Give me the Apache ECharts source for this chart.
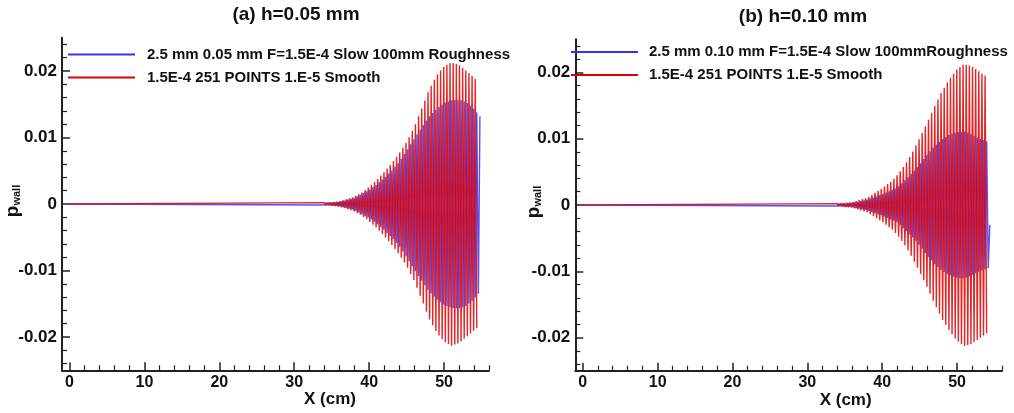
<!DOCTYPE html>
<html>
<head>
<meta charset="utf-8">
<script src="https://cdn.jsdelivr.net/npm/echarts@6/dist/echarts.min.js"></script>
<style>
html,body{margin:0;padding:0;background:#fff;}
#chart{width:1014px;height:413px;}
</style>
</head>
<body>
<div id="chart"></div>
<script>
// x positions (cm) of the successive extrema of the wall-pressure traces (first point = start of flat line)
const xStroke = [0,
34.00,34.21,34.42,34.63,34.84,35.05,35.26,35.47,35.68,35.89,
36.10,36.31,36.52,36.73,36.94,37.15,37.36,37.57,37.78,37.99,
38.20,38.41,38.62,38.83,39.04,39.25,39.46,39.67,39.88,40.09,
40.30,40.51,40.72,40.93,41.14,41.35,41.56,41.77,41.98,42.19,
42.40,42.61,42.82,43.03,43.24,43.45,43.66,43.87,44.08,44.29,
44.50,44.71,44.92,45.13,45.34,45.55,45.76,45.97,46.18,46.39,
46.60,46.81,47.02,47.23,47.44,47.65,47.86,48.07,48.28,48.49,
48.70,48.91,49.12,49.33,49.54,49.75,49.96,50.17,50.38,50.59,
50.80,51.01,51.22,51.43,51.64,51.85,52.06,52.27,52.48,52.69,
52.90,53.11,53.32,53.53,53.74,53.95,54.16,54.37,54.58,54.79];

// (a) h=0.05 mm : rough-wall case (blue)
const roughA = [0,
-0.00015,0.00017,-0.00018,0.00020,-0.00021,0.00023,-0.00024,0.00026,-0.00028,0.00029,
-0.00033,0.00039,-0.00046,0.00052,-0.00058,0.00065,-0.00071,0.00077,-0.00083,0.00090,
-0.00102,0.00115,-0.00127,0.00140,-0.00152,0.00165,-0.00178,0.00190,-0.00203,0.00217,
-0.00234,0.00251,-0.00268,0.00284,-0.00304,0.00325,-0.00346,0.00367,-0.00388,0.00411,
-0.00434,0.00457,-0.00480,0.00504,-0.00531,0.00559,-0.00586,0.00613,-0.00644,0.00679,
-0.00715,0.00751,-0.00786,0.00823,-0.00861,0.00899,-0.00937,0.00975,-0.01010,0.01046,
-0.01082,0.01118,-0.01153,0.01187,-0.01220,0.01254,-0.01288,0.01318,-0.01344,0.01369,
-0.01394,0.01419,-0.01441,0.01460,-0.01479,0.01498,-0.01516,0.01527,-0.01535,0.01544,
-0.01552,0.01560,-0.01562,0.01564,-0.01566,0.01569,-0.01568,0.01560,-0.01551,0.01542,
-0.01534,0.01519,-0.01498,0.01477,-0.01456,0.01435,-0.01405,0.01377,-0.01349,0.01320];

// (a) smooth-wall case (red)
const smoothA = [0,
0.00020,-0.00021,0.00022,-0.00023,0.00024,-0.00026,0.00029,-0.00032,0.00035,-0.00038,
0.00043,-0.00049,0.00056,-0.00062,0.00068,-0.00076,0.00084,-0.00093,0.00101,-0.00110,
0.00122,-0.00135,0.00147,-0.00160,0.00174,-0.00193,0.00211,-0.00230,0.00249,-0.00269,
0.00290,-0.00311,0.00332,-0.00353,0.00377,-0.00402,0.00427,-0.00452,0.00478,-0.00505,
0.00532,-0.00559,0.00587,-0.00615,0.00646,-0.00678,0.00709,-0.00740,0.00774,-0.00809,
0.00845,-0.00881,0.00916,-0.00959,0.01005,-0.01051,0.01097,-0.01143,0.01200,-0.01260,
0.01320,-0.01380,0.01436,-0.01497,0.01558,-0.01619,0.01679,-0.01735,0.01779,-0.01823,
0.01867,-0.01911,0.01947,-0.01976,0.02006,-0.02035,0.02064,-0.02080,0.02093,-0.02105,
0.02118,-0.02130,0.02121,-0.02113,0.02104,-0.02096,0.02085,-0.02066,0.02047,-0.02028,
0.02009,-0.01990,0.01968,-0.01947,0.01926,-0.01905,0.01884,-0.01863];

// (b) h=0.10 mm : rough-wall case (blue)
const roughB = [0,
-0.00015,0.00017,-0.00018,0.00020,-0.00021,0.00023,-0.00024,0.00026,-0.00027,0.00029,
-0.00033,0.00038,-0.00043,0.00048,-0.00054,0.00059,-0.00064,0.00069,-0.00074,0.00080,
-0.00088,0.00096,-0.00105,0.00113,-0.00122,0.00130,-0.00138,0.00147,-0.00155,0.00165,
-0.00175,0.00186,-0.00196,0.00207,-0.00217,0.00228,-0.00238,0.00249,-0.00259,0.00281,
-0.00304,0.00327,-0.00350,0.00373,-0.00396,0.00420,-0.00443,0.00466,-0.00490,0.00518,
-0.00545,0.00572,-0.00600,0.00630,-0.00661,0.00693,-0.00724,0.00756,-0.00783,0.00811,
-0.00838,0.00865,-0.00892,0.00913,-0.00934,0.00955,-0.00976,0.00995,-0.01010,0.01024,
-0.01039,0.01054,-0.01065,0.01073,-0.01082,0.01090,-0.01098,0.01102,-0.01104,0.01106,
-0.01108,0.01109,-0.01099,0.01089,-0.01078,0.01068,-0.01056,0.01044,-0.01031,0.01019,
-0.01006,0.00996,-0.00987,0.00979,-0.00970,0.00962,-0.00953,-0.00300];

// (b) smooth-wall case (red)
const smoothB = [0,
0.00020,-0.00022,0.00024,-0.00026,0.00028,-0.00031,0.00033,-0.00035,0.00037,-0.00039,
0.00043,-0.00052,0.00058,-0.00066,0.00073,-0.00080,0.00088,-0.00095,0.00102,-0.00110,
0.00124,-0.00139,0.00153,-0.00168,0.00183,-0.00199,0.00214,-0.00229,0.00243,-0.00258,
0.00277,-0.00296,0.00315,-0.00334,0.00352,-0.00372,0.00397,-0.00422,0.00448,-0.00479,
0.00510,-0.00542,0.00573,-0.00606,0.00646,-0.00686,0.00725,-0.00765,0.00808,-0.00854,
0.00900,-0.00946,0.00992,-0.01039,0.01087,-0.01135,0.01183,-0.01233,0.01285,-0.01338,
0.01390,-0.01443,0.01495,-0.01543,0.01591,-0.01640,0.01688,-0.01733,0.01770,-0.01808,
0.01846,-0.01884,0.01918,-0.01950,0.01981,-0.02013,0.02044,-0.02064,0.02081,-0.02097,
0.02114,-0.02126,0.02117,-0.02113,0.02104,-0.02096,0.02085,-0.02068,0.02052,-0.02035,
0.02018,-0.02001,0.01984,-0.01968,0.01951,-0.01934];

const titles = ['(a) h=0.05 mm', '(b) h=0.10 mm'];
const roughNames = ['2.5 mm 0.05 mm F=1.5E-4 Slow 100mm Roughness', '2.5 mm 0.10 mm F=1.5E-4 Slow 100mmRoughness'];
const smoothName = '1.5E-4 251 POINTS 1.E-5 Smooth';
const xMajor = [0, 10, 20, 30, 40, 50];
const xMinor = [2,4,6,8,12,14,16,18,22,24,26,28,32,34,36,38,42,44,46,48,52,54,56];
const yMajor = [-0.02, -0.01, 0, 0.01, 0.02];
const yMinor = [-0.024,-0.022,-0.018,-0.016,-0.014,-0.012,-0.008,-0.006,-0.004,-0.002,0.002,0.004,0.006,0.008,0.012,0.014,0.016,0.018,0.022,0.024];

const FONT = '"Liberation Sans", Arial, Helvetica, sans-serif';
const INK = '#111';
const AX = '#222';
const RED = '#dd0000';
const BLUE = '#3333ff';

function pairs(vals) { return vals.map((v, i) => [xStroke[i], v]); }

const grids = [
  {left: 62, top: 37.75, width: 427, height: 332.5, outerBoundsMode: 'none', containLabel: false},
  {left: 575.3, top: 39.25, width: 426.7, height: 331.5, outerBoundsMode: 'none', containLabel: false}
];
const namePad = [109, 114];
const yNameGap = [40, 32];

const xAxes = [], yAxes = [];
grids.forEach((g, gi) => {
  xAxes.push({
    gridIndex: gi, type: 'value', min: -1, max: 56,
    splitLine: {show: false},
    axisLine: {show: true, onZero: false, lineStyle: {color: AX, width: 2}},
    axisTick: {show: true, inside: true, length: 8, customValues: xMajor, lineStyle: {color: AX, width: 1.5}},
    axisLabel: {customValues: xMajor, fontSize: 16, fontWeight: 'bold', color: INK, margin: 4, fontFamily: FONT},
    name: 'X (cm)', nameLocation: 'middle', nameGap: 21, nameMoveOverlap: false,
    nameTextStyle: {fontSize: 17, fontWeight: 'bold', color: INK, fontFamily: FONT, padding: [0, 0, 0, namePad[gi]]}
  });
  xAxes.push({
    gridIndex: gi, type: 'value', min: -1, max: 56, position: 'bottom',
    splitLine: {show: false}, axisLine: {show: false, onZero: false}, axisLabel: {show: false},
    axisTick: {show: true, inside: true, length: 5, customValues: xMinor, lineStyle: {color: AX, width: 1.2}}
  });
  yAxes.push({
    gridIndex: gi, type: 'value', min: -0.025, max: 0.025,
    splitLine: {show: false},
    axisLine: {show: true, onZero: false, lineStyle: {color: AX, width: 2}},
    axisTick: {show: true, inside: true, length: 8, customValues: yMajor, lineStyle: {color: AX, width: 1.5}},
    axisLabel: {customValues: yMajor, fontSize: 17, fontWeight: 'bold', color: INK, margin: 5, fontFamily: FONT},
    name: '{p|p}{s|wall}', nameLocation: 'middle', nameGap: yNameGap[gi], nameMoveOverlap: false,
    nameTextStyle: {
      padding: [0, 0, 0, 6],
      rich: {
        p: {fontSize: 19, fontWeight: 'bold', color: INK, fontFamily: FONT},
        s: {fontSize: 11, fontWeight: 'bold', color: INK, fontFamily: FONT, verticalAlign: 'bottom', padding: [7, 0, 0, 0]}
      }
    }
  });
  yAxes.push({
    gridIndex: gi, type: 'value', min: -0.025, max: 0.025, position: 'left',
    splitLine: {show: false}, axisLine: {show: false, onZero: false}, axisLabel: {show: false},
    axisTick: {show: true, inside: true, length: 5, customValues: yMinor, lineStyle: {color: AX, width: 1.2}}
  });
});

function lineSeries(name, vals, gi, color, opacity, width) {
  return {
    name: name, type: 'line', xAxisIndex: gi * 2, yAxisIndex: gi * 2,
    data: pairs(vals), showSymbol: false, symbol: 'none', clip: true,
    color: color,
    lineStyle: {color: color, width: width, opacity: opacity},
    emphasis: {disabled: true}
  };
}

const option = {
  animation: false,
  backgroundColor: '#fff',
  title: [
    {text: titles[0], left: 296, top: 5, padding: 0, textAlign: 'center', textStyle: {fontSize: 19, fontWeight: 'bold', color: INK, fontFamily: FONT}},
    {text: titles[1], left: 803, top: 7, padding: 0, textAlign: 'center', textStyle: {fontSize: 19, fontWeight: 'bold', color: INK, fontFamily: FONT}}
  ],
  legend: [
    {orient: 'vertical', left: 68, top: 45.5, padding: 0, itemWidth: 67, itemHeight: 2, itemGap: 5, icon: 'rect', selectedMode: false,
     data: [roughNames[0], smoothName],
     textStyle: {fontSize: 15, fontWeight: 'bold', color: INK, fontFamily: FONT, lineHeight: 18, padding: [0, 0, 0, 7]}},
    {orient: 'vertical', left: 571, top: 43, padding: 0, itemWidth: 67, itemHeight: 2, itemGap: 5, icon: 'rect', selectedMode: false,
     data: [roughNames[1], smoothName],
     textStyle: {fontSize: 15, fontWeight: 'bold', color: INK, fontFamily: FONT, lineHeight: 18, padding: [0, 0, 0, 6]}}
  ],
  grid: grids,
  xAxis: xAxes,
  yAxis: yAxes,
  series: [
    lineSeries(roughNames[0], roughA, 0, BLUE, 0.85, 1.4),
    lineSeries(smoothName, smoothA, 0, RED, 0.85, 1.4),
    lineSeries(roughNames[1], roughB, 1, BLUE, 0.85, 1.4),
    lineSeries(smoothName, smoothB, 1, RED, 0.85, 1.4)
  ]
};

const chart = echarts.init(document.getElementById('chart'), null, {renderer: 'canvas'});
chart.setOption(option);
</script>
</body>
</html>
